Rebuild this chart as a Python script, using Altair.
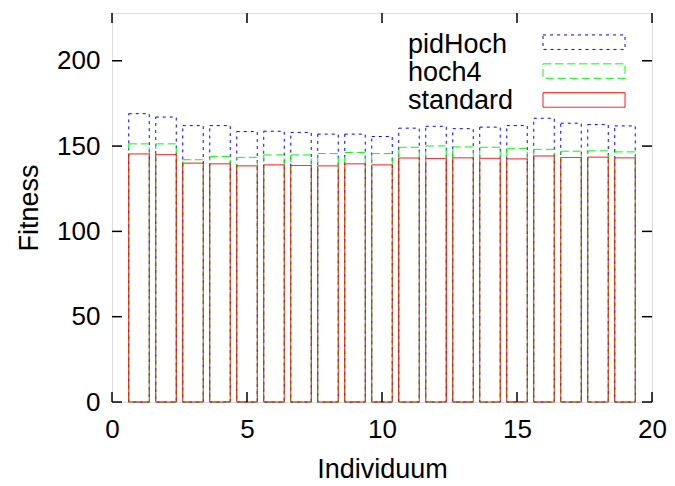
import altair as alt
import pandas as pd

individuals = list(range(1, 20))
pidHoch = [169.0, 167.0, 162.0, 162.0, 158.5, 158.7, 158.0, 157.0, 157.0, 155.6,
           160.5, 161.6, 160.2, 161.1, 162.0, 166.3, 163.4, 162.6, 161.8]
hoch4 = [151.3, 151.3, 142.0, 143.8, 143.4, 144.8, 144.8, 145.6, 146.2, 145.6,
         149.3, 150.1, 149.5, 149.3, 148.7, 148.1, 147.0, 147.2, 146.6]
standard = [145.4, 145.0, 140.0, 139.6, 138.4, 139.0, 138.6, 138.4, 139.6, 139.0,
            143.0, 142.7, 143.1, 142.8, 142.5, 144.2, 143.3, 143.5, 143.1]

series_names = ["pidHoch", "hoch4", "standard"]
series_values = [pidHoch, hoch4, standard]
series_colors = ["#0000ff", "#00ff00", "#ff0000"]
series_dashes = [[3, 4], [8, 4], [1, 0]]
y_ticks = [0, 50, 100, 150, 200]
x_ticks = [0, 5, 10, 15, 20]

W, H = 540, 389
FONT = "Liberation Sans"
FS = 26
FS_TEXT = 27
half_width = 0.38
x_domain = [0, 20]
y_domain = [0, 228]

xs = alt.Scale(domain=x_domain, nice=False, zero=False)
ys = alt.Scale(domain=y_domain, nice=False)

x_axis = alt.Axis(
    values=x_ticks, title="Individuum", ticks=False, domain=False, grid=False,
    labelFontSize=FS, titleFontSize=FS_TEXT, labelFont=FONT, titleFont=FONT,
    labelPadding=14, titleFontWeight="normal", titleY=67, titleBaseline="middle",
    labelColor="black", titleColor="black", labelFlush=False)
y_axis = alt.Axis(
    values=y_ticks, title="Fitness", ticks=False, domain=False, grid=False,
    labelFontSize=FS, titleFontSize=FS_TEXT, labelFont=FONT, titleFont=FONT,
    labelPadding=12, titleFontWeight="normal", titleX=-83, titleBaseline="middle",
    titleAlign="center", labelColor="black", titleColor="black")

layers = []
for name, vals, col, dash in zip(series_names, series_values, series_colors, series_dashes):
    d = pd.DataFrame({"ind": individuals, "value": vals})
    layers.append(
        alt.Chart(d).transform_calculate(
            x0=f"datum.ind - {half_width}", x1=f"datum.ind + {half_width}"
        ).mark_rect(fillOpacity=0, stroke=col, strokeDash=dash, strokeWidth=1).encode(
            x=alt.X("x0:Q", scale=xs, axis=x_axis),
            x2="x1:Q",
            y=alt.Y("value:Q", scale=ys, axis=y_axis if name == "pidHoch" else None),
            y2=alt.datum(0),
        )
    )

ytick_df = pd.DataFrame({"v": y_ticks})
xtick_df = pd.DataFrame({"v": x_ticks})
tick_len = 10

ytl = alt.Chart(ytick_df).mark_rule(color="black", strokeWidth=1.5).encode(
    y=alt.Y("v:Q", scale=ys, axis=None), x=alt.value(0), x2=alt.value(tick_len))
ytr = alt.Chart(ytick_df).mark_rule(color="black", strokeWidth=1.5).encode(
    y=alt.Y("v:Q", scale=ys, axis=None), x=alt.value(W - tick_len), x2=alt.value(W))
xtb = alt.Chart(xtick_df).mark_rule(color="black", strokeWidth=1.5).encode(
    x=alt.X("v:Q", scale=xs, axis=x_axis), y=alt.value(H), y2=alt.value(H - tick_len))
xtt = alt.Chart(xtick_df).mark_rule(color="black", strokeWidth=1.5).encode(
    x=alt.X("v:Q", scale=xs, axis=x_axis), y=alt.value(0), y2=alt.value(tick_len))

stroke_scale = alt.Scale(domain=series_names, range=series_colors)
dash_scale = alt.Scale(domain=series_names, range=series_dashes)
leg_df = pd.DataFrame({"series": series_names})
leg_text = alt.Chart(leg_df).mark_text(
    align="left", baseline="alphabetic", fontSize=FS_TEXT, font=FONT, color="black"
).encode(
    x=alt.value(296),
    y=alt.Y("series:N", scale=alt.Scale(type="point", domain=series_names, range=[40, 96], padding=0), axis=None),
    text="series:N",
)
leg_box = alt.Chart(leg_df).mark_bar(
    orient="horizontal", size=14.5, fillOpacity=0, strokeWidth=1
).encode(
    x=alt.value(431), x2=alt.value(513),
    y=alt.Y("series:N", scale=alt.Scale(type="point", domain=series_names, range=[29.2, 87], padding=0), axis=None),
    stroke=alt.Stroke("series:N", scale=stroke_scale, legend=None),
    strokeDash=alt.StrokeDash("series:N", scale=dash_scale, legend=None),
)

chart = alt.layer(*layers, ytl, ytr, xtb, xtt, leg_text, leg_box).resolve_scale(
    y="independent"
).properties(
    width=W, height=H,
    autosize=alt.AutoSizeParams(type="none"),
    padding={"left": 112, "top": 13, "right": 23, "bottom": 84},
).configure_view(stroke="black", strokeWidth=1.5).configure(background="white")

chart.save("out.html", embed_options={"renderer": "svg", "actions": False})
